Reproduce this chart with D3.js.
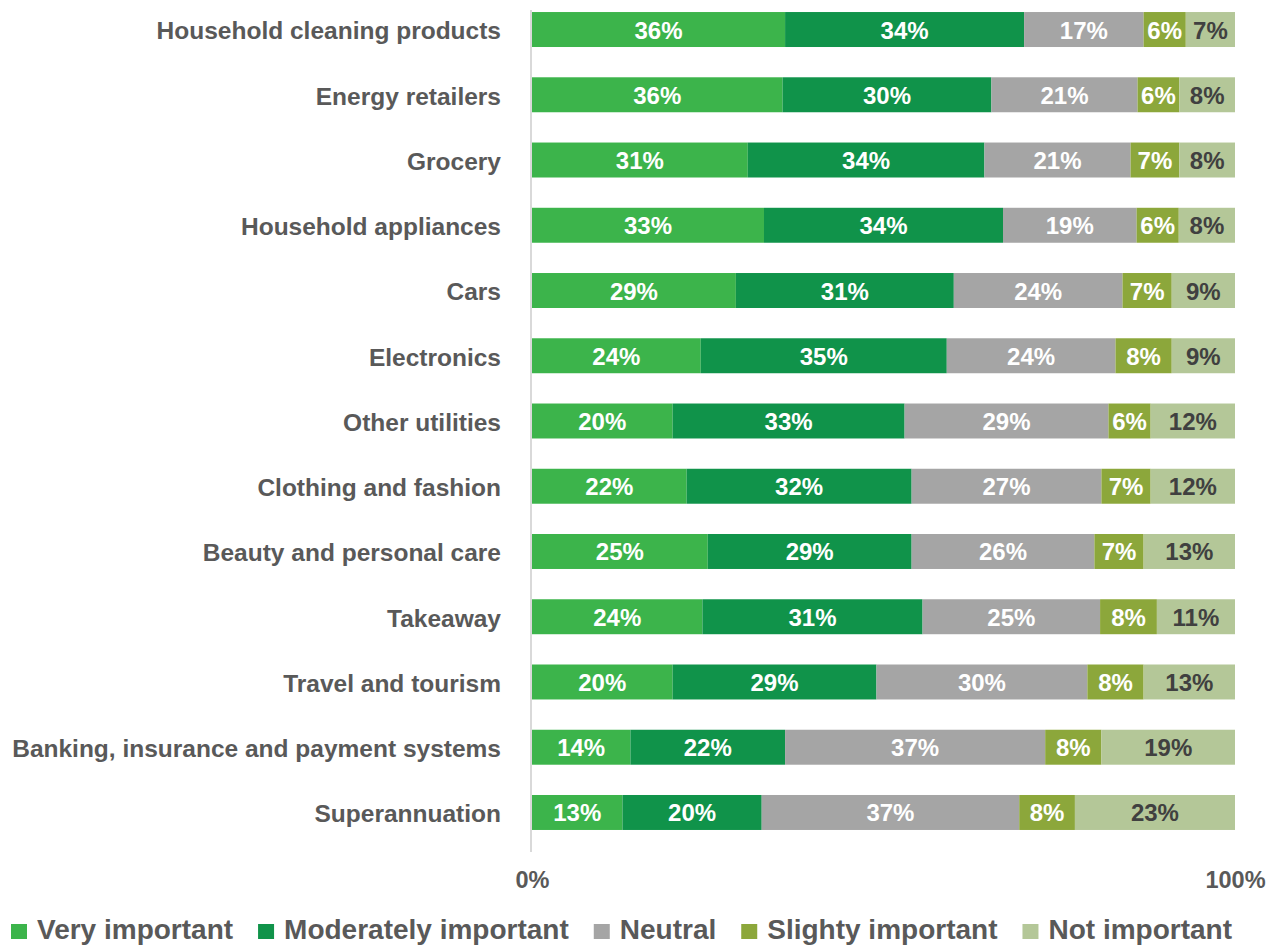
<!DOCTYPE html>
<html>
<head>
<meta charset="utf-8">
<script src="https://cdn.jsdelivr.net/npm/d3@7"></script>
<style>
  html, body { margin: 0; padding: 0; background: #ffffff; }
  svg { display: block; font-family: "Liberation Sans", Arial, sans-serif; }
</style>
</head>
<body>
<svg id="chart" width="1276" height="946"></svg>
<script>
// Categories, top to bottom
const categories = [
  "Household cleaning products",
  "Energy retailers",
  "Grocery",
  "Household appliances",
  "Cars",
  "Electronics",
  "Other utilities",
  "Clothing and fashion",
  "Beauty and personal care",
  "Takeaway",
  "Travel and tourism",
  "Banking, insurance and payment systems",
  "Superannuation"
];

// Series names (legend order)
const seriesNames = ["Very important", "Moderately important", "Neutral", "Slighty important", "Not important"];

// Percent values per series, one per category
const veryImportant       = [36, 36, 31, 33, 29, 24, 20, 22, 25, 24, 20, 14, 13];
const moderatelyImportant = [34, 30, 34, 34, 31, 35, 33, 32, 29, 31, 29, 22, 20];
const neutral             = [17, 21, 21, 19, 24, 24, 29, 27, 26, 25, 30, 37, 37];
const slightlyImportant   = [ 6,  6,  7,  6,  7,  8,  6,  7,  7,  8,  8,  8,  8];
const notImportant        = [ 7,  8,  8,  8,  9,  9, 12, 12, 13, 11, 13, 19, 23];

const xTickLabels = ["0%", "100%"];

const colors = ["#3cb44b", "#10934a", "#a5a5a5", "#8ca73b", "#b4c798"];
const labelColors = ["#ffffff", "#ffffff", "#ffffff", "#ffffff", "#404040"];

const seriesValues = [veryImportant, moderatelyImportant, neutral, slightlyImportant, notImportant];
const rows = categories.map((c, i) => {
  const r = { category: c };
  seriesNames.forEach((s, k) => { r[s] = seriesValues[k][i]; });
  return r;
});

const svg = d3.select("#chart");

const x = d3.scaleLinear().domain([0, 1]).range([532, 1235]);
const y = d3.scaleBand()
  .domain(categories)
  .range([-3.1, 845.1])
  .paddingInner(0.464)
  .paddingOuter(0.232);

// Rows are stacked to a 100% total
const stack = d3.stack().keys(seriesNames).offset(d3.stackOffsetExpand);
const layers = stack(rows);

// Vertical baseline axis
svg.append("line")
  .attr("x1", 531).attr("x2", 531)
  .attr("y1", 10).attr("y2", 852)
  .attr("stroke", "#d9d9d9").attr("stroke-width", 2);

const layerG = svg.selectAll("g.layer")
  .data(layers)
  .join("g")
  .attr("class", "layer")
  .attr("fill", (d, i) => colors[i]);

layerG.selectAll("rect")
  .data(d => d)
  .join("rect")
  .attr("x", d => x(d[0]))
  .attr("y", d => y(d.data.category))
  .attr("width", d => x(d[1]) - x(d[0]))
  .attr("height", y.bandwidth());

// Value labels inside segments
layers.forEach((layer, i) => {
  svg.append("g")
    .selectAll("text")
    .data(layer)
    .join("text")
    .attr("x", d => (x(d[0]) + x(d[1])) / 2)
    .attr("y", d => y(d.data.category) + y.bandwidth() / 2 + 9)
    .attr("text-anchor", "middle")
    .attr("font-size", 24)
    .attr("font-weight", "bold")
    .attr("fill", labelColors[i])
    .text(d => d.data[layer.key] + "%");
});

// Category labels
const yAxis = d3.axisLeft(y).tickSize(0).tickPadding(0);
const yAxisG = svg.append("g")
  .attr("transform", "translate(501,0)")
  .call(yAxis);
yAxisG.select(".domain").remove();
yAxisG.selectAll("text")
  .attr("font-size", 24.5)
  .attr("font-weight", "bold")
  .attr("font-family", "'Liberation Sans', Arial, sans-serif")
  .attr("fill", "#595959")
  .attr("dy", "0.4em");

// X tick labels
const xAxis = d3.axisBottom(x).tickValues([0, 1]).tickSize(0).tickPadding(0)
  .tickFormat((d, i) => xTickLabels[i]);
const xAxisG = svg.append("g")
  .attr("transform", "translate(0,871)")
  .call(xAxis);
xAxisG.select(".domain").remove();
xAxisG.selectAll("text")
  .attr("font-size", 23.5)
  .attr("font-weight", "bold")
  .attr("font-family", "'Liberation Sans', Arial, sans-serif")
  .attr("fill", "#595959")
  .attr("dy", "0.71em");

// Legend
const legend = svg.append("g").attr("transform", "translate(0,939)");
let lx = 11;
seriesNames.forEach((name, i) => {
  const g = legend.append("g").attr("transform", `translate(${lx},0)`);
  g.append("rect")
    .attr("x", 0).attr("y", -15)
    .attr("width", 16).attr("height", 15)
    .attr("fill", colors[i]);
  const t = g.append("text")
    .attr("x", 26).attr("y", 0)
    .attr("font-size", 28)
    .attr("font-weight", "bold")
    .attr("fill", "#595959")
    .text(name);
  lx += 26 + t.node().getComputedTextLength() + 25;
});
</script>
</body>
</html>
